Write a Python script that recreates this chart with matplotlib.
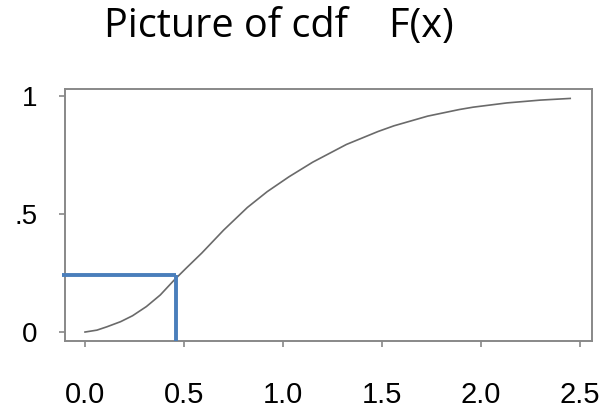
import matplotlib
matplotlib.use("Agg")
import matplotlib.pyplot as plt

# data
cdf_x = [0.0, 0.06, 0.11, 0.18, 0.24, 0.31, 0.38, 0.45, 0.51, 0.59, 0.70, 0.82,
         0.92, 1.03, 1.15, 1.32, 1.48, 1.56, 1.73, 1.89, 1.96, 2.13, 2.30, 2.45]
cdf_y = [0.0, 0.008, 0.022, 0.044, 0.069, 0.108, 0.157, 0.22, 0.27, 0.335, 0.432,
         0.528, 0.595, 0.658, 0.720, 0.795, 0.850, 0.874, 0.915, 0.943, 0.953,
         0.971, 0.983, 0.99]
x_ticks = [0.0, 0.5, 1.0, 1.5, 2.0, 2.5]
x_ticklabels = ["0.0", "0.5", "1.0", "1.5", "2.0", "2.5"]
y_ticks = [0, 0.5, 1]
y_ticklabels = ["0", ".5", "1"]
marker_x = 0.46
marker_y = 0.24

fig = plt.figure(figsize=(6.14, 4.07), dpi=100)
ax = fig.add_axes([65/614, 1-341/407, (592-65)/614, (341-89)/407])

ax.plot(cdf_x, cdf_y, color="#6a6a6a", lw=1.2, zorder=3,
        solid_joinstyle="round")

ax.set_xlim(-0.101, 2.56)
ax.set_ylim(-0.038, 1.03)

blue = "#4a7ebb"
ax.plot([-0.116, marker_x], [marker_y, marker_y], color=blue, lw=2.8,
        clip_on=False, solid_capstyle="butt", zorder=4)
ax.plot([marker_x, marker_x], [marker_y, -0.038], color=blue, lw=2.8,
        clip_on=False, solid_capstyle="butt", zorder=4)

for s in ax.spines.values():
    s.set_color("#888888")
    s.set_linewidth(1.4)

ax.set_xticks(x_ticks)
ax.set_xticklabels(x_ticklabels, fontfamily="Liberation Sans", fontsize=21)
ax.set_yticks(y_ticks)
ax.set_yticklabels(y_ticklabels, fontfamily="Liberation Sans", fontsize=20)
ax.tick_params(axis="x", length=4, width=1.2, color="#888888", pad=25)
ax.tick_params(axis="y", length=4, width=1.2, color="#888888", pad=16)

fig.text(279/614, 1-37/407, "Picture of cdf    F(x)", ha="center", va="baseline",
         fontfamily="Open Sans", fontsize=28.5)

fig.savefig("out.png", dpi=100)
